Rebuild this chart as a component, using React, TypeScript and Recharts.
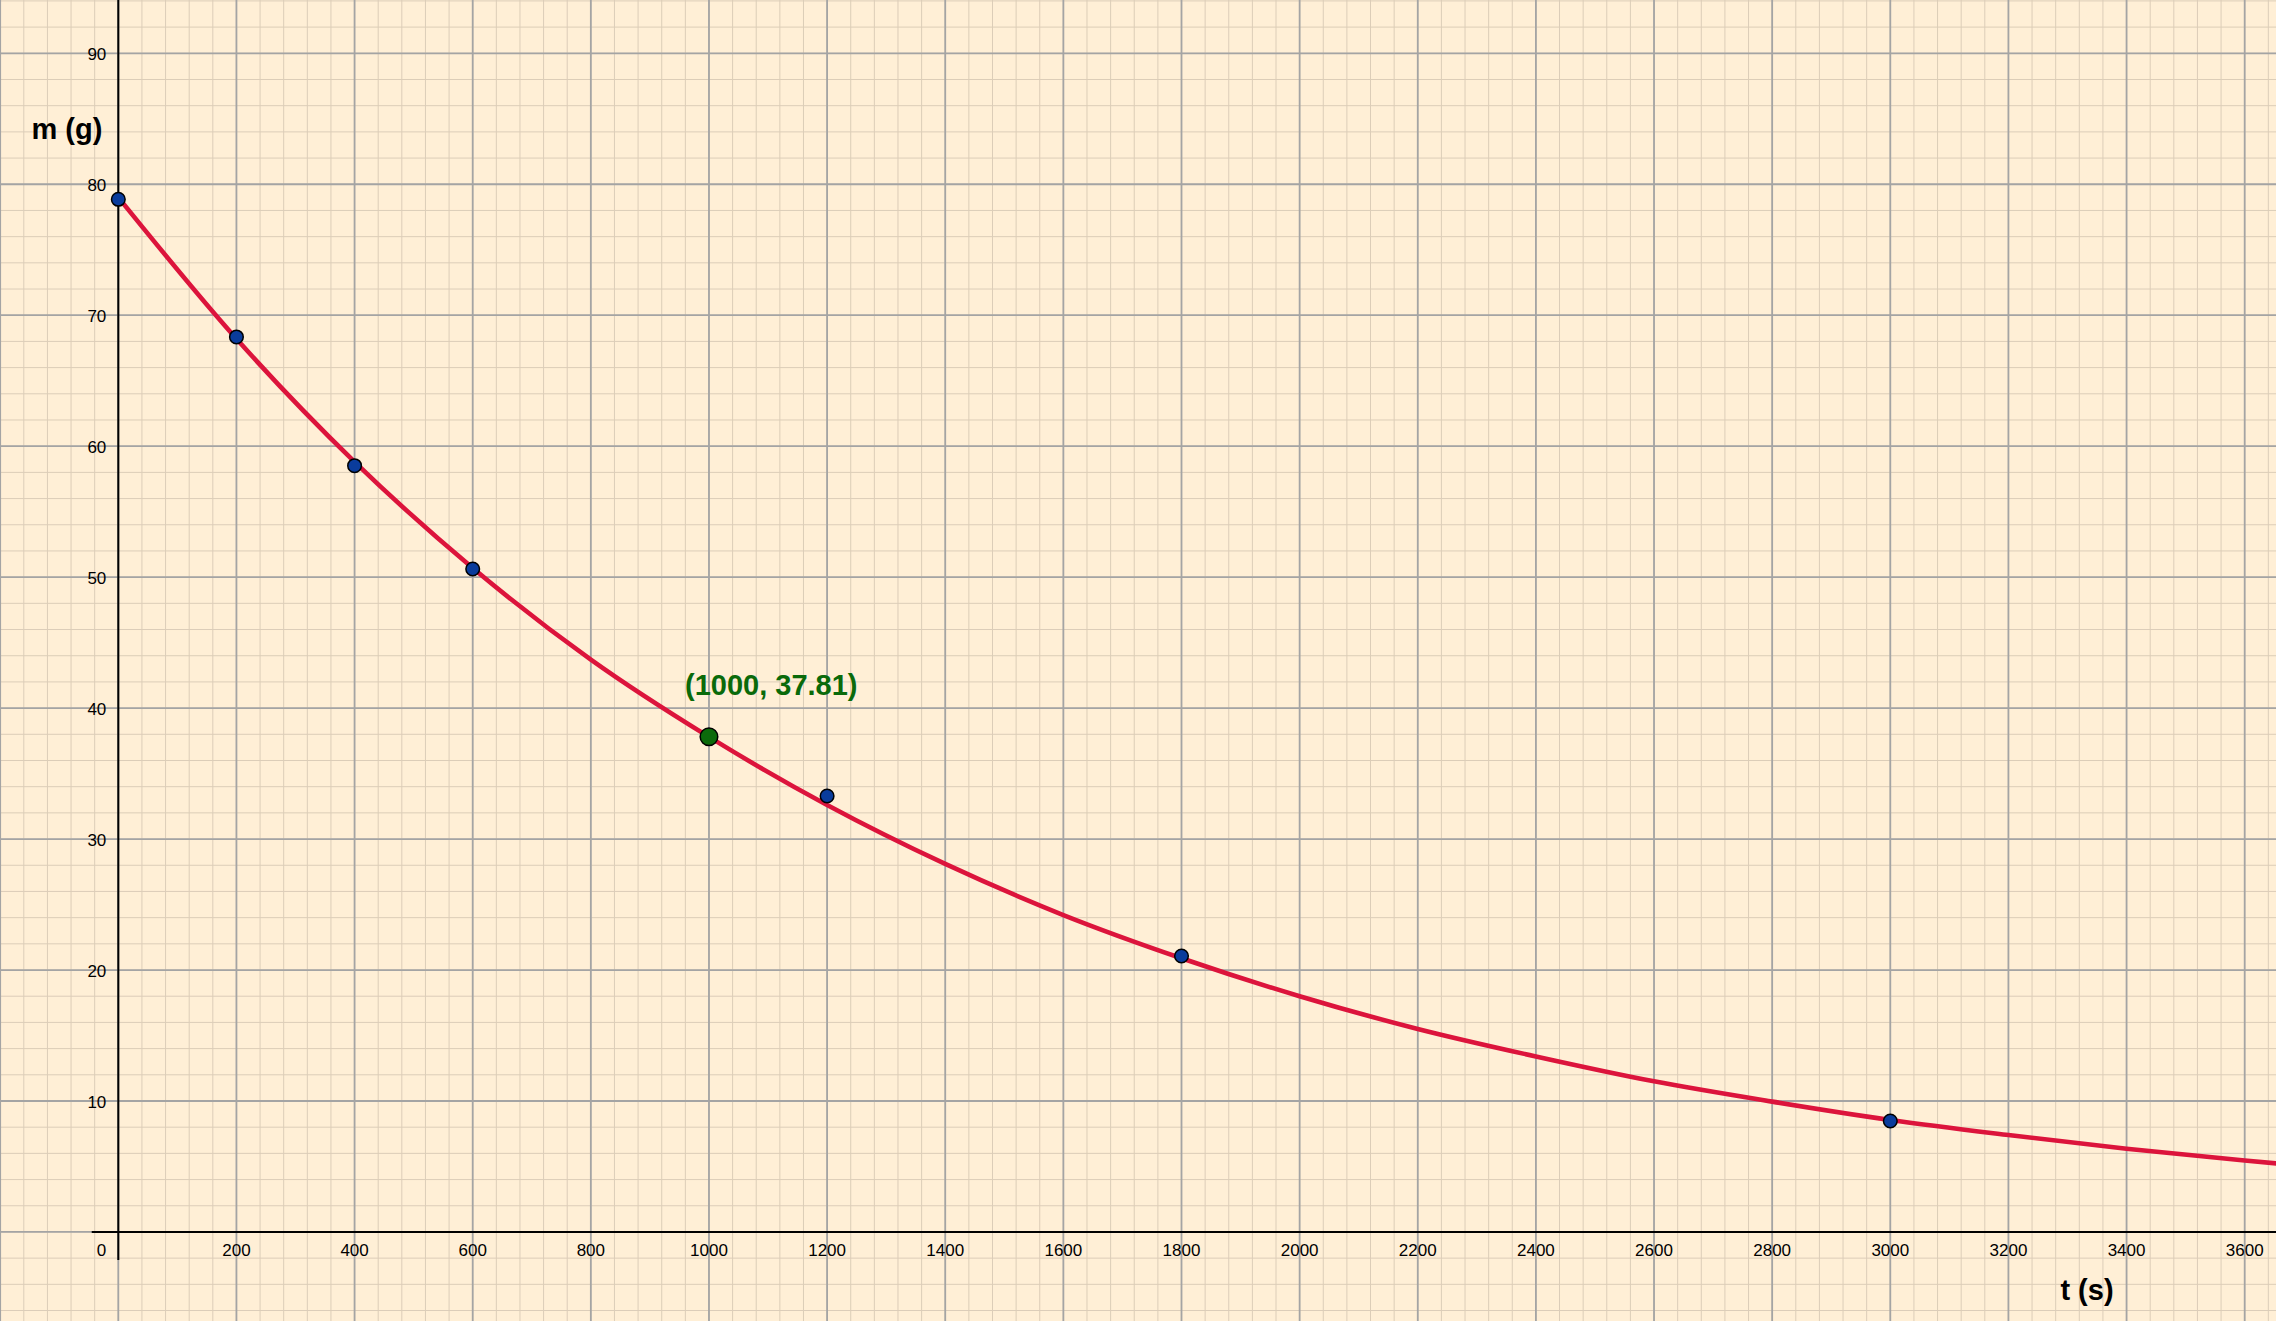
import React from 'react';
import { ComposedChart, Line, Scatter, XAxis, YAxis, ReferenceLine, ReferenceDot } from 'recharts';

// ---- data ----
const curveT = [0, 200, 400, 600, 800, 1000, 1200, 1400, 1600, 1800, 2000, 2200, 2400, 2600, 2800, 3000, 3200, 3400, 3600, 3700];
const curveM = [79.0, 68.2, 58.8, 50.7, 43.7, 37.8, 32.6, 28.1, 24.2, 20.9, 18.0, 15.5, 13.4, 11.5, 9.95, 8.55, 7.4, 6.35, 5.45, 5.05];

const sampleT = [0, 200, 400, 600, 1200, 1800, 3000];
const sampleM = [78.85, 68.34, 58.51, 50.62, 33.29, 21.07, 8.47];

const highlightT = [1000];
const highlightM = [37.81];
const highlightLabel = ['(1000, 37.81)'];

const xTickLabels = [200, 400, 600, 800, 1000, 1200, 1400, 1600, 1800, 2000, 2200, 2400, 2600, 2800, 3000, 3200, 3400, 3600];
const yTickLabels = [10, 20, 30, 40, 50, 60, 70, 80, 90];
const originLabel = ['0'];

const xTitle = 't (s)';
const yTitle = 'm (g)';

// grid positions
const xMajor = [-200, 0, 200, 400, 600, 800, 1000, 1200, 1400, 1600, 1800, 2000, 2200, 2400, 2600, 2800, 3000, 3200, 3400, 3600];
const yMajor = [0, 10, 20, 30, 40, 50, 60, 70, 80, 90];
const xMinor = Array.from({ length: 97 }, (_, i) => -200 + 40 * i);
const yMinor = Array.from({ length: 51 }, (_, i) => -6 + 2 * i);

// ---- tables built from the arrays ----
const curveData = curveT.map((t, i) => ({ t, m: curveM[i] }));
const sampleData = sampleT.map((t, i) => ({ t, m: sampleM[i] }));
const highlightData = highlightT.map((t, i) => ({ t, m: highlightM[i], label: highlightLabel[i] }));
const xTickData = xTickLabels.map((v) => ({ t: v, m: 0, label: String(v) }));
const yTickData = yTickLabels.map((v) => ({ t: 0, m: v, label: String(v) }));
const originData = originLabel.map((l) => ({ t: 0, m: 0, label: l }));

const FONT = '"Liberation Sans", Arial, sans-serif';
const W = 2276;
const H = 1321;
const X_DOMAIN: [number, number] = [-200.3, 3653];
const Y_DOMAIN: [number, number] = [-6.8, 94.07];

const XTick = (p: any) => (
  <text x={p.cx} y={p.cy + 18} dy="0.35em" textAnchor="middle" fontFamily={FONT} fontSize={17} fill="#000">
    {p.payload.label}
  </text>
);
const YTick = (p: any) => (
  <text x={p.cx - 12} y={p.cy + 1} dy="0.35em" textAnchor="end" fontFamily={FONT} fontSize={17} fill="#000">
    {p.payload.label}
  </text>
);
const OriginTick = (p: any) => (
  <text x={p.cx - 12} y={p.cy + 18} dy="0.35em" textAnchor="end" fontFamily={FONT} fontSize={17} fill="#000">
    {p.payload.label}
  </text>
);
const SampleDot = (p: any) => (
  <circle cx={p.cx} cy={p.cy} r={6.8} fill="#0a3c9c" stroke="#000" strokeWidth={1.5} />
);
const HighlightDot = (p: any) => (
  <g>
    <circle cx={p.cx} cy={p.cy} r={8.8} fill="#0b6a0b" stroke="#000" strokeWidth={1.5} />
    <text x={p.cx - 24} y={p.cy - 42} textAnchor="start" fontFamily={FONT} fontSize={29} fontWeight="bold" fill="#0a6a0a">
      {p.payload.label}
    </text>
  </g>
);
const YTitle = (p: any) => (
  <text x={p.cx - 16} y={p.cy + 7.5} textAnchor="end" fontFamily={FONT} fontSize={29} fontWeight="bold" fill="#000">
    {yTitle}
  </text>
);
const XTitle = (p: any) => (
  <text x={p.cx} y={p.cy + 7.5} textAnchor="middle" fontFamily={FONT} fontSize={29} fontWeight="bold" fill="#000">
    {xTitle}
  </text>
);

export default function App() {
  return (
    <div style={{ position: 'fixed', left: 0, top: 0, width: W, height: H, background: '#FFEFD6' }}>
      <ComposedChart width={W} height={H} margin={{ top: 0, right: 0, bottom: 0, left: 0 }}>
        <XAxis type="number" dataKey="t" domain={X_DOMAIN} allowDataOverflow hide />
        <YAxis type="number" dataKey="m" domain={Y_DOMAIN} allowDataOverflow hide />

        {xMinor.map((v) => (
          <ReferenceLine key={'xm' + v} x={v} stroke="#dccdb8" strokeWidth={1} ifOverflow="hidden" />
        ))}
        {yMinor.map((v) => (
          <ReferenceLine key={'ym' + v} y={v} stroke="#dccdb8" strokeWidth={1} ifOverflow="hidden" />
        ))}
        {xMajor.map((v) => (
          <ReferenceLine key={'xM' + v} x={v} stroke="#a4a4a4" strokeWidth={1.8} ifOverflow="hidden" />
        ))}
        {yMajor.map((v) => (
          <ReferenceLine key={'yM' + v} y={v} stroke="#a4a4a4" strokeWidth={1.8} ifOverflow="hidden" />
        ))}

        <ReferenceLine segment={[{ x: -45, y: 0 }, { x: 3653, y: 0 }]} stroke="#000" strokeWidth={2} ifOverflow="visible" />
        <ReferenceLine segment={[{ x: 0, y: -2.14 }, { x: 0, y: 94.07 }]} stroke="#000" strokeWidth={2} ifOverflow="visible" />

        <Scatter data={xTickData} dataKey="m" shape={XTick} isAnimationActive={false} />
        <Scatter data={yTickData} dataKey="m" shape={YTick} isAnimationActive={false} />
        <Scatter data={originData} dataKey="m" shape={OriginTick} isAnimationActive={false} />

        <ReferenceDot x={0} y={84} r={0} shape={YTitle} ifOverflow="visible" />
        <ReferenceDot x={3333} y={-4.6} r={0} shape={XTitle} ifOverflow="visible" />

        <Line
          data={curveData}
          dataKey="m"
          type="monotone"
          stroke="#dc143c"
          strokeWidth={4.6}
          dot={false}
          activeDot={false}
          isAnimationActive={false}
        />
        <Scatter data={sampleData} dataKey="m" shape={SampleDot} isAnimationActive={false} />
        <Scatter data={highlightData} dataKey="m" shape={HighlightDot} isAnimationActive={false} />
      </ComposedChart>
    </div>
  );
}
